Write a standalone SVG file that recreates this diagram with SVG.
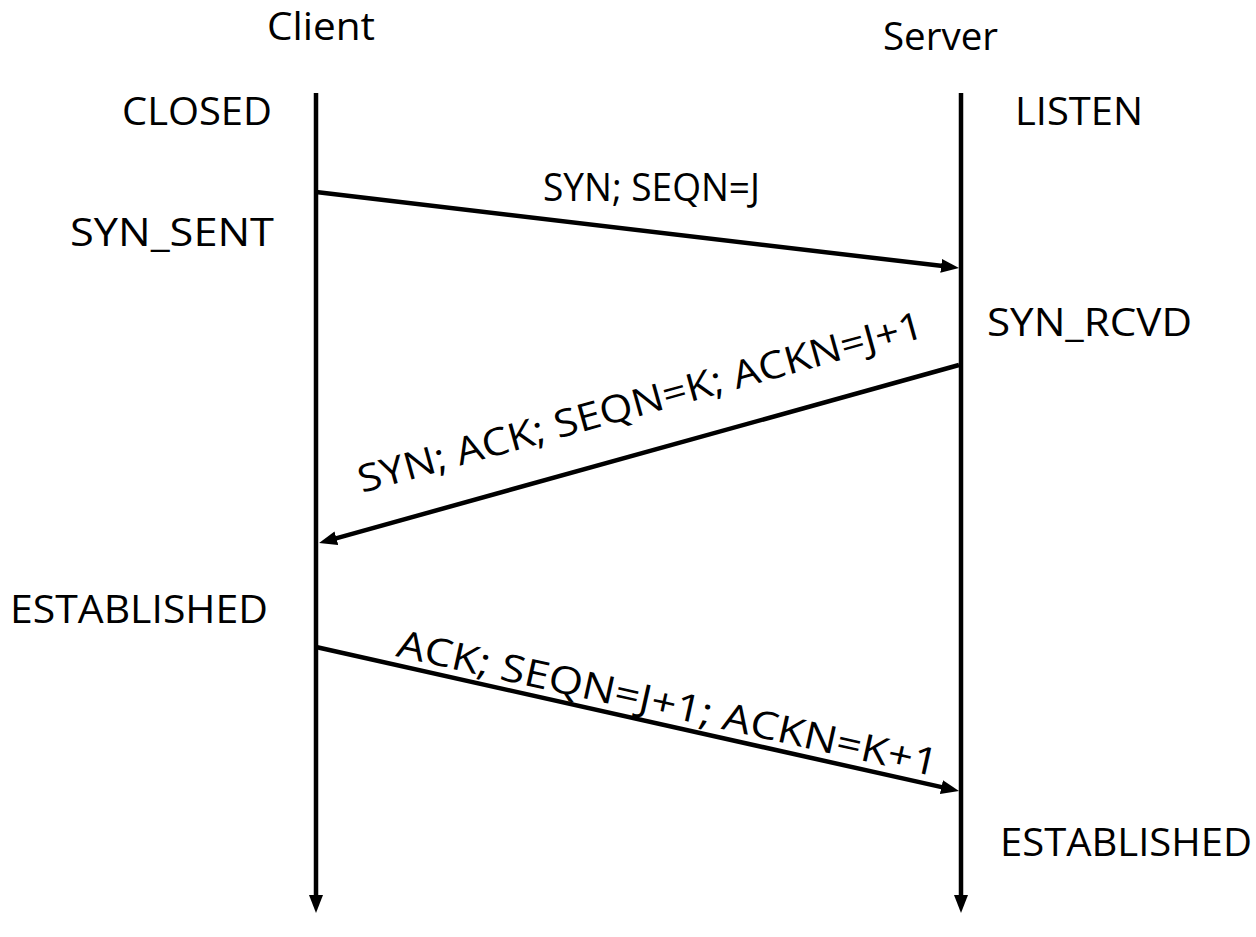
<svg xmlns="http://www.w3.org/2000/svg" width="1256" height="937" viewBox="0 0 1256 937">
<style>
text{font-family:"Open Sans","Liberation Sans",sans-serif;font-size:38px;fill:#000}
.ln{stroke:#000;stroke-width:4.5;fill:none}
</style>
<defs>
<marker id="ah" markerUnits="userSpaceOnUse" markerWidth="18" markerHeight="14" refX="6" refY="7" orient="auto">
<path d="M0,0 L18,7 L0,14 z" fill="#000"/>
</marker>
</defs>
<rect width="1256" height="937" fill="#fff"/>
<g id="client">
<text x="267" y="40" textLength="108" lengthAdjust="spacingAndGlyphs">Client</text>
</g>
<g id="server">
<text x="883" y="50" textLength="115" lengthAdjust="spacingAndGlyphs">Server</text>
</g>
<g id="client-states">
<text x="122" y="125" textLength="150" lengthAdjust="spacingAndGlyphs">CLOSED</text>
<text x="70" y="246" textLength="204" lengthAdjust="spacingAndGlyphs">SYN_SENT</text>
<text x="10" y="623" textLength="258" lengthAdjust="spacingAndGlyphs">ESTABLISHED</text>
</g>
<g id="server-states">
<text x="1015" y="125" textLength="128" lengthAdjust="spacingAndGlyphs">LISTEN</text>
<text x="987" y="336" textLength="205" lengthAdjust="spacingAndGlyphs">SYN_RCVD</text>
<text x="1000" y="856" textLength="252" lengthAdjust="spacingAndGlyphs">ESTABLISHED</text>
</g>
<g id="connectors">
<line class="ln" x1="316" y1="93" x2="316" y2="901" marker-end="url(#ah)"/>
<line class="ln" x1="961" y1="93" x2="961" y2="901" marker-end="url(#ah)"/>
<line class="ln" x1="316" y1="192" x2="947.1" y2="266.6" marker-end="url(#ah)"/>
<line class="ln" x1="959" y1="365" x2="330.6" y2="539.8" marker-end="url(#ah)"/>
<line class="ln" x1="316" y1="647" x2="947.3" y2="788.4" marker-end="url(#ah)"/>
</g>
<g id="labels">
<text x="543" y="201" textLength="217" lengthAdjust="spacingAndGlyphs">SYN; SEQN=J</text>
<text transform="translate(362,493) rotate(-15.5)" textLength="585" lengthAdjust="spacingAndGlyphs">SYN; ACK; SEQN=K; ACKN=J+1</text>
<text transform="translate(395,656) rotate(12.6)" textLength="553" lengthAdjust="spacingAndGlyphs">ACK; SEQN=J+1; ACKN=K+1</text>
</g>
</svg>
